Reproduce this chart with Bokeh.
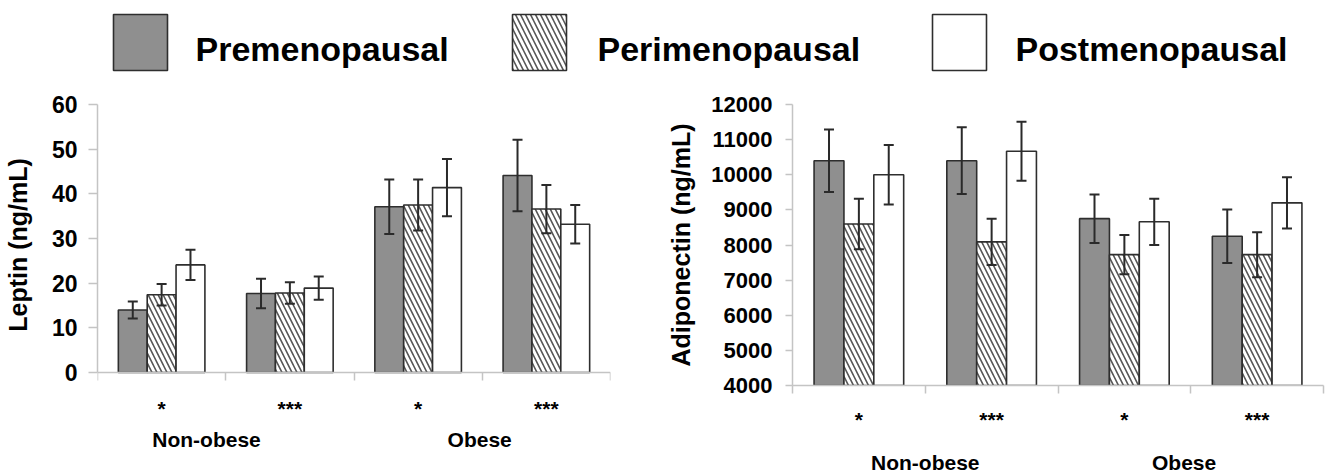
from bokeh.plotting import figure
from bokeh.layouts import column, row
from bokeh.models import Range1d, FixedTicker, LinearAxis, Whisker, TeeHead, ColumnDataSource
from bokeh.core.properties import value
from bokeh.embed import file_html
from bokeh.resources import INLINE

# ---------------- data ----------------
categories = ["Non-obese *", "Non-obese ***", "Obese *", "Obese ***"]
significance = ["*", "***", "*", "***"]
groups = ["Non-obese", "Obese"]
series = ["Premenopausal", "Perimenopausal", "Postmenopausal"]

leptin_pre = [14.0, 17.7, 37.1, 44.1]
leptin_pre_err = [1.9, 3.3, 6.1, 8.0]
leptin_peri = [17.4, 17.8, 37.5, 36.6]
leptin_peri_err = [2.4, 2.4, 5.7, 5.4]
leptin_post = [24.1, 18.9, 41.4, 33.2]
leptin_post_err = [3.4, 2.6, 6.4, 4.3]

adipo_pre = [10400, 10400, 8750, 8250]
adipo_pre_err = [890, 950, 690, 760]
adipo_peri = [8600, 8090, 7725, 7725]
adipo_peri_err = [720, 660, 560, 640]
adipo_post = [10000, 10670, 8660, 9200]
adipo_post_err = [850, 840, 660, 730]

leptin_ticks = [0, 10, 20, 30, 40, 50, 60]
adipo_ticks = [4000, 5000, 6000, 7000, 8000, 9000, 10000, 11000, 12000]

# ---------------- style ----------------
FONT = "Liberation Sans"
FILLS = ["#8f8f8f", "white", "white"]
HATCH = [None, "\\", None]
OUTLINE = "#2e2e2e"
AXIS_GRAY = "#c4c4c4"
BAR_W = 0.225
HATCH_KW = dict(hatch_color="#555555", hatch_scale=10, hatch_weight=1.6)


def style_fig(p):
    p.grid.visible = False
    p.outline_line_color = None
    p.background_fill_color = "white"
    p.border_fill_color = "white"


def label_axis(ax, standoff):
    ax.major_label_standoff = standoff
    ax.major_label_text_font = FONT
    ax.major_label_text_font_style = "bold"
    ax.major_label_text_font_size = "21px"
    ax.major_label_text_color = "black"


def text_axis(ticks, labels, standoff):
    ax = LinearAxis(ticker=FixedTicker(ticks=ticks, minor_ticks=[]),
                    major_label_overrides={t: s for t, s in zip(ticks, labels)})
    ax.axis_line_color = None
    ax.major_tick_line_color = None
    ax.major_tick_out = 0
    ax.major_tick_in = 0
    ax.minor_tick_line_color = None
    label_axis(ax, standoff)
    return ax


def make_chart(values, errors, ticks, ylabel, width, height, borders, y_floor,
               ytick_out, ylabel_standoff, ytitle_standoff, ytitle_size,
               star_standoff, group_standoff, group_pos, font_size):
    y0, y1 = ticks[0], ticks[-1]
    p = figure(width=width, height=height, x_range=Range1d(0, len(categories)),
               y_range=Range1d(y_floor, y1), toolbar_location=None, output_backend="svg",
               min_border_left=borders[0], min_border_right=borders[1],
               min_border_top=borders[2], min_border_bottom=borders[3])
    style_fig(p)
    n = len(series)
    for i in range(n):
        xs = [k + 0.5 + (i - (n - 1) / 2) * BAR_W for k in range(len(categories))]
        tops = values[i]
        kw = dict(fill_color=FILLS[i], line_color=OUTLINE, line_width=1.6)
        if HATCH[i]:
            kw.update(hatch_pattern=HATCH[i], **HATCH_KW)
        p.vbar(x=xs, top=tops, bottom=y0, width=BAR_W, **kw)
        src = ColumnDataSource(dict(
            x=xs,
            upper=[t + e for t, e in zip(tops, errors[i])],
            lower=[t - e for t, e in zip(tops, errors[i])],
        ))
        w = Whisker(source=src, base="x", upper="upper", lower="lower",
                    line_color="#2a2a2a", line_width=2, level="overlay",
                    upper_head=TeeHead(size=10, line_color="#2a2a2a", line_width=2),
                    lower_head=TeeHead(size=10, line_color="#2a2a2a", line_width=2))
        p.add_layout(w)

    # y axis
    ya = p.yaxis[0]
    ya.ticker = FixedTicker(ticks=ticks, minor_ticks=[])
    ya.bounds = (y0, y1)
    ya.axis_line_color = AXIS_GRAY
    ya.axis_line_width = 1.5
    ya.major_tick_line_color = AXIS_GRAY
    ya.major_tick_line_width = 1.5
    ya.major_tick_out = ytick_out
    ya.major_tick_in = 0
    ya.minor_tick_line_color = None
    ya.major_label_standoff = ylabel_standoff
    ya.major_label_text_font = FONT
    ya.major_label_text_font_style = "bold"
    ya.major_label_text_font_size = font_size
    ya.major_label_text_color = "black"
    ya.axis_label = ylabel
    ya.axis_label_text_font = FONT
    ya.axis_label_text_font_style = "bold"
    ya.axis_label_text_font_size = ytitle_size
    ya.axis_label_text_color = "black"
    ya.axis_label_standoff = ytitle_standoff

    # x axis: category separators (+ significance stars)
    xa = p.xaxis[0]
    centers = [k + 0.5 for k in range(len(categories))]
    bounds = [k for k in range(len(categories) + 1)]
    xa.axis_line_color = AXIS_GRAY
    xa.axis_line_width = 1.5
    xa.major_tick_line_color = None
    xa.major_tick_out = 0
    xa.major_tick_in = 0
    xa.minor_tick_line_color = AXIS_GRAY
    xa.minor_tick_line_width = 1.5
    xa.minor_tick_out = 8
    xa.minor_tick_in = 0
    if y_floor < y0:
        # baseline sits inside the frame: separators there, stars on their own row
        xa.fixed_location = y0
        xa.ticker = FixedTicker(ticks=[], minor_ticks=bounds)
        p.add_layout(text_axis(centers, significance, star_standoff), "below")
    else:
        xa.ticker = FixedTicker(ticks=centers, minor_ticks=bounds)
        xa.major_label_overrides = {c: s for c, s in zip(centers, significance)}
        label_axis(xa, star_standoff)

    # group labels
    p.add_layout(text_axis(group_pos, groups, group_standoff), "below")
    return p


left = make_chart([leptin_pre, leptin_peri, leptin_post],
                  [leptin_pre_err, leptin_peri_err, leptin_post_err],
                  leptin_ticks, "Leptin (ng/mL)", 660, 391, (97, 50, 19, 90), -2.9,
                  9, 11, 17, "25px", 11, 5, [0.85, 2.98], "23px")
right = make_chart([adipo_pre, adipo_peri, adipo_post],
                   [adipo_pre_err, adipo_peri_err, adipo_post_err],
                   adipo_ticks, "Adiponectin (ng/mL)", 671, 391, (132, 8, 19, 90), 4000,
                   7, 13, 13, "25px", 14, 17, [1.0, 2.95], "22px")

# ---------------- legend strip ----------------
LEG_W, LEG_H = 1331, 85
leg = figure(width=LEG_W, height=LEG_H, x_range=Range1d(0, LEG_W), y_range=Range1d(LEG_H, 0),
             toolbar_location=None, output_backend="svg", min_border=0)
style_fig(leg)
leg.axis.visible = False
swatch_x = [140, 539, 959]
label_x = [195, 597, 1015]
for i, name in enumerate(series):
    kw = dict(fill_color=FILLS[i], line_color=OUTLINE, line_width=1.6)
    if HATCH[i]:
        kw.update(hatch_pattern=HATCH[i], **HATCH_KW)
    leg.rect(x=[swatch_x[i]], y=[42], width=54, height=56, **kw)
    leg.text(x=[label_x[i]], y=[48], text=[name], text_font=value(FONT),
             text_font_style="bold", text_font_size="34px", text_color="black",
             text_baseline="alphabetic", text_align="left")

layout = column(leg, row(left, right, spacing=0), spacing=0)
open("out.html", "w").write(file_html(layout, INLINE))
